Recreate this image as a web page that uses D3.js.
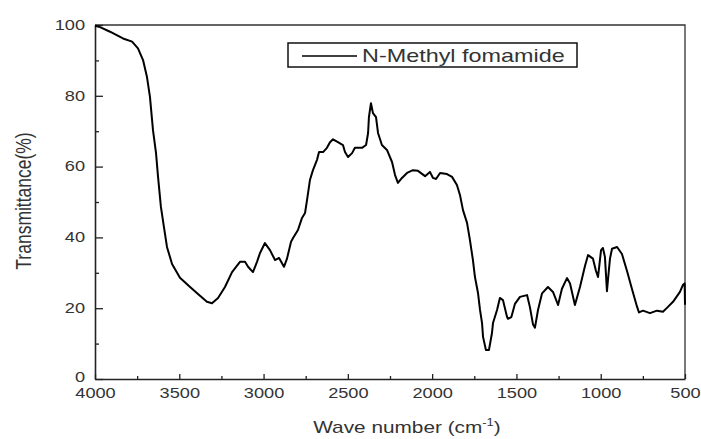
<!DOCTYPE html>
<html>
<head>
<meta charset="utf-8">
<script src="https://cdn.jsdelivr.net/npm/d3@7/dist/d3.min.js"></script>
<style>
  html, body { margin: 0; padding: 0; background: #fff; }
  svg { display: block; font-family: "Liberation Sans", Arial, sans-serif; }
</style>
</head>
<body>
<svg id="chart" width="701" height="439"></svg>
<script>
// ---- Data ----
const seriesName = "N-Methyl fomamide";
const waveNumbers = [4000, 3970, 3911, 3834, 3780, 3745, 3715, 3692, 3674, 3656, 3638, 3626, 3609, 3591, 3573, 3543, 3496, 3436, 3389, 3336, 3306, 3270, 3229, 3187, 3140, 3110, 3092, 3063, 3039, 3021, 2992, 2962, 2932, 2908, 2879, 2861, 2837, 2825, 2796, 2772, 2754, 2742, 2725, 2707, 2683, 2671, 2647, 2624, 2606, 2588, 2559, 2529, 2517, 2499, 2475, 2458, 2416, 2392, 2380, 2375, 2363, 2351, 2333, 2321, 2298, 2268, 2238, 2220, 2203, 2179, 2149, 2114, 2084, 2042, 2013, 1995, 1977, 1953, 1912, 1882, 1853, 1835, 1817, 1793, 1776, 1758, 1746, 1728, 1716, 1704, 1698, 1681, 1663, 1645, 1639, 1615, 1598, 1580, 1556, 1550, 1530, 1509, 1479, 1437, 1420, 1402, 1390, 1372, 1348, 1313, 1283, 1253, 1230, 1200, 1182, 1153, 1123, 1093, 1075, 1046, 1028, 1016, 998, 987, 975, 963, 957, 945, 933, 903, 874, 844, 815, 785, 773, 749, 708, 666, 631, 607, 571, 530, 512, 502, 500];
const transmittance = [99.8, 99.4, 98.1, 96.2, 95.3, 93.4, 90.1, 85.4, 79.7, 70.3, 63.8, 57.1, 48.6, 42.9, 37.3, 32.5, 28.6, 26.0, 24.0, 21.8, 21.4, 22.9, 26.0, 30.2, 33.1, 33.1, 31.7, 30.2, 33.1, 35.6, 38.4, 36.4, 33.6, 34.2, 31.7, 34.0, 38.8, 39.8, 42.1, 45.5, 46.9, 50.6, 56.2, 59.0, 61.9, 64.1, 64.1, 65.3, 66.9, 67.7, 66.9, 66.1, 64.1, 62.7, 63.8, 65.3, 65.3, 66.1, 69.5, 74.0, 77.9, 75.1, 74.0, 69.5, 66.1, 64.7, 61.3, 57.6, 55.4, 56.8, 58.2, 59.0, 58.8, 57.3, 58.5, 56.8, 56.5, 58.2, 57.9, 57.1, 54.8, 52.0, 47.7, 44.1, 39.3, 33.6, 28.8, 24.3, 19.5, 15.8, 11.9, 8.2, 8.2, 13.0, 15.8, 19.5, 22.9, 22.3, 17.6, 17.0, 17.5, 21.2, 23.2, 23.7, 20.3, 15.5, 14.5, 19.5, 24.2, 26.0, 24.6, 20.9, 25.5, 28.5, 27.0, 20.9, 26.0, 32.0, 35.0, 34.0, 30.5, 28.8, 36.4, 37.0, 34.5, 24.8, 28.0, 34.0, 36.8, 37.3, 35.3, 30.5, 25.5, 20.5, 18.8, 19.3, 18.6, 19.3, 19.0, 20.1, 21.8, 24.6, 26.6, 27.0, 21.0];
const xTicks = [4000, 3500, 3000, 2500, 2000, 1500, 1000, 500];
const xMinorTicks = [3750, 3250, 2750, 2250, 1750, 1250, 750];
const yTicks = [0, 20, 40, 60, 80, 100];
const yMinorTicks = [10, 30, 50, 70, 90];
const xTitle = "Wave number (cm";
const xTitleSup = "-1";
const yTitle = "Transmittance(%)";

// ---- Layout ----
const L = 95, R = 685, T = 25, B = 379;
const STRETCH = 1.3;
const textColor = "#333";

const svg = d3.select("#chart");
const x = d3.scaleLinear().domain([4000, 500]).range([L, R]);
const y = d3.scaleLinear().domain([0, 100]).range([B, T]);

// frame (top & right)
svg.append("path")
  .attr("d", `M${L},${T}H${R}V${B}`)
  .attr("fill", "none").attr("stroke", "#333").attr("stroke-width", 1.3);

// x axis (ticks pointing inward)
const gx = svg.append("g").attr("transform", `translate(0,${B})`);
gx.call(d3.axisBottom(x).tickValues(xTicks).tickSizeInner(-5).tickSizeOuter(0).tickPadding(0).tickFormat(d3.format("d")));
gx.append("g").call(d3.axisBottom(x).tickValues(xMinorTicks).tickSizeInner(-3).tickSizeOuter(0).tickFormat(""))
  .select(".domain").remove();

// y axis
const gy = svg.append("g").attr("transform", `translate(${L},0)`);
gy.call(d3.axisLeft(y).tickValues(yTicks).tickSizeInner(-8).tickSizeOuter(0).tickFormat(d3.format("d")));
gy.append("g").call(d3.axisLeft(y).tickValues(yMinorTicks).tickSizeInner(-4).tickSizeOuter(0).tickFormat(""))
  .select(".domain").remove();

svg.selectAll(".domain").attr("stroke", "#222").attr("stroke-width", 1.6);
svg.selectAll(".tick line").attr("stroke", "#222").attr("stroke-width", 1.3);

gx.selectAll(".tick text")
  .attr("y", 0).attr("dy", null)
  .attr("transform", `translate(0,19) scale(${STRETCH},1)`)
  .attr("font-size", 14).attr("fill", textColor)
  .attr("font-family", "'Liberation Sans', Arial, sans-serif");
gy.selectAll(".tick text")
  .attr("x", -10 / STRETCH).attr("dy", "0.3em")
  .attr("transform", d => d === 0 ? `translate(0,-2) scale(${STRETCH},1)` : `scale(${STRETCH},1)`)
  .attr("font-size", 14).attr("fill", textColor)
  .attr("font-family", "'Liberation Sans', Arial, sans-serif");

// curve
const data = waveNumbers.map((w, i) => ({ w, t: transmittance[i] }));
svg.append("path")
  .datum(data)
  .attr("fill", "none")
  .attr("stroke", "#000")
  .attr("stroke-width", 2)
  .attr("stroke-linejoin", "round")
  .attr("d", d3.line().x(d => x(d.w)).y(d => y(d.t)));

// legend
const lg = svg.append("g");
lg.append("rect").attr("x", 288).attr("y", 43).attr("width", 289).attr("height", 24)
  .attr("fill", "#fff").attr("stroke", "#111").attr("stroke-width", 1.5);
lg.append("line").attr("x1", 302).attr("x2", 357).attr("y1", 56).attr("y2", 56)
  .attr("stroke", "#000").attr("stroke-width", 1.3);
lg.append("text").attr("transform", `translate(362,62) scale(${STRETCH},1)`)
  .attr("font-size", 18).attr("fill", textColor).text(seriesName);

// axis titles
const xt = svg.append("text")
  .attr("transform", `translate(407,433) scale(${STRETCH},1)`)
  .attr("text-anchor", "middle").attr("font-size", 16).attr("fill", textColor);
xt.append("tspan").text(xTitle);
xt.append("tspan").attr("font-size", 10).attr("dy", -7).text(xTitleSup);
xt.append("tspan").attr("dy", 7).text(")");

svg.append("text")
  .attr("transform", `translate(31,201) rotate(-90) scale(1,${STRETCH})`)
  .attr("text-anchor", "middle").attr("font-size", 17.5).attr("fill", textColor)
  .text(yTitle);
</script>
</body>
</html>
